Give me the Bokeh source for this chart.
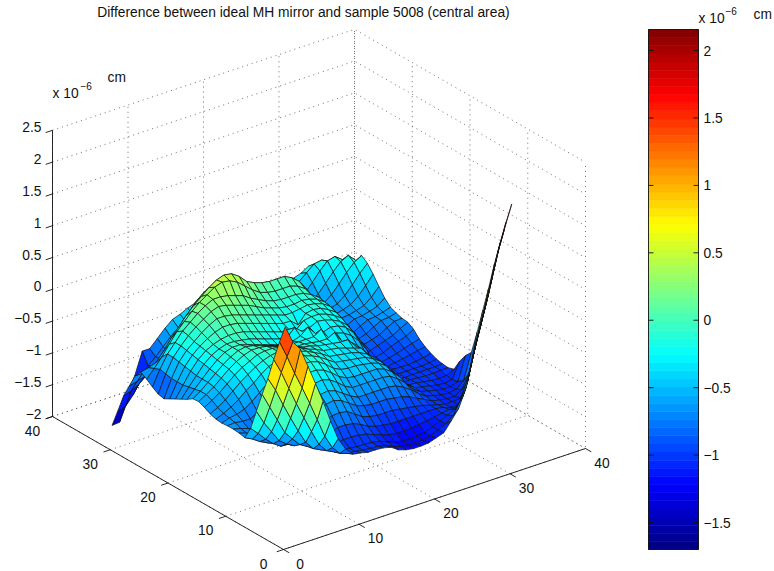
from bokeh.plotting import figure
from bokeh.models import Range1d
from bokeh.core.properties import value
from bokeh.embed import file_html
from bokeh.resources import INLINE
import numpy as np

title = "Difference between ideal MH mirror and sample 5008 (central area)"
x_ticks = [0, 10, 20, 30, 40]
y_ticks = [0, 10, 20, 30, 40]
z_ticks = [-2, -1.5, -1, -0.5, 0, 0.5, 1, 1.5, 2, 2.5]
z_tick_labels = ["\u22122", "\u22121.5", "\u22121", "\u22120.5", "0", "0.5", "1", "1.5", "2", "2.5"]
bar_ticks = [-1.5, -1, -0.5, 0, 0.5, 1, 1.5, 2]
bar_tick_labels = ["\u22121.5", "\u22121", "\u22120.5", "0", "0.5", "1", "1.5", "2"]
clim = (-1.70, 2.156)

# surface heights: hundredths of 1e-6 cm above z = -2, one list per y = 1..31
r01 = [341,313,298,267,236,204,169,137,117,105,103,100,100,99,96,88,84,82,82,83,87,91,106,122,152,203,246,289,340,378,415]
r02 = [312,285,255,228,200,170,140,118,105,101,100,98,97,96,93,88,84,82,81,82,85,90,96,105,125,156,205,248,293,341,381]
r03 = [279,255,226,198,172,146,122,108,102,100,100,98,98,97,95,90,86,83,82,83,85,90,95,100,105,120,160,207,250,297,344]
r04 = [244,222,195,170,146,124,110,104,104,106,108,108,107,105,100,96,92,90,90,90,92,94,96,98,100,98,118,163,208,251,305]
r05 = [214,190,166,142,128,115,108,108,112,118,122,122,120,115,108,104,102,100,100,100,100,100,100,100,98,94,94,117,167,210,262]
r06 = [182,160,142,124,115,108,108,114,122,130,135,136,134,126,118,114,112,112,112,110,108,106,104,100,97,94,94,95,119,169,222]
r07 = [150,138,125,114,106,105,110,120,132,142,148,150,146,138,130,126,124,124,124,122,120,116,110,104,98,95,93,93,100,123,182]
r08 = [130,124,116,110,108,108,116,128,142,152,158,160,156,148,140,134,134,134,134,134,132,126,118,108,100,97,94,93,95,105,145]
r09 = [132,128,122,116,114,118,128,142,154,164,170,172,168,160,150,144,144,144,144,144,142,134,124,110,102,99,96,94,94,98,135]
r10 = [133,130,126,122,124,132,144,156,168,176,182,182,178,170,160,154,152,152,152,152,148,140,128,112,103,100,98,95,94,96,121]
r11 = [133,134,132,132,138,148,158,170,178,186,190,190,186,178,168,162,160,160,158,156,152,144,130,112,102,101,99,97,96,97,103]
r12 = [132,136,138,142,150,160,170,180,186,192,196,194,190,184,176,168,166,164,162,160,154,146,132,112,100,101,100,99,99,100,100]
r13 = [133,138,144,152,162,170,180,188,192,196,198,196,192,186,180,172,170,168,166,162,156,146,130,110,100,99,100,100,100,100,101]
r14 = [136,142,150,160,170,178,186,192,196,198,198,196,192,186,182,176,174,172,168,164,160,146,128,108,101,100,100,100,100,101,103]
r15 = [141,148,156,166,176,184,190,196,198,198,196,192,188,184,182,178,176,174,172,172,158,146,128,110,103,102,101,101,102,104,107]
r16 = [145,152,160,170,180,188,194,198,198,196,192,188,184,180,180,178,176,176,182,164,160,150,136,118,102,101,103,105,107,110,112]
r17 = [144,152,162,172,182,190,196,198,196,192,188,184,180,178,178,178,178,186,168,172,168,160,148,130,103,103,105,108,112,116,119]
r18 = [138,150,162,174,184,192,196,196,192,188,184,180,176,174,174,178,188,174,172,176,174,168,156,138,105,105,108,114,118,122,129]
r19 = [133,148,162,176,186,192,196,196,194,192,188,184,180,176,174,186,176,178,184,182,178,172,162,145,107,110,114,118,122,129,135]
r20 = [128,146,164,178,188,194,198,200,200,198,194,190,186,182,178,178,174,184,186,186,182,176,168,150,112,115,118,122,129,135,136]
r21 = [123,146,166,180,190,198,204,208,208,206,202,198,194,190,186,182,182,172,186,188,186,180,172,155,115,118,122,129,135,136,139]
r22 = [118,146,168,182,192,202,210,216,216,214,210,206,202,198,194,190,186,186,188,190,188,184,176,160,120,122,129,135,136,139,143]
r23 = [120,148,170,184,196,206,214,222,226,224,220,216,212,206,200,196,192,190,190,192,190,186,178,165,125,129,135,136,139,143,152]
r24 = [126,150,170,184,198,208,218,226,232,232,230,226,222,214,208,202,198,196,196,196,194,188,180,160,129,135,136,139,143,152,165]
r25 = [133,146,160,176,192,204,216,226,234,242,246,244,238,228,218,210,206,204,204,204,200,192,175,150,135,136,139,143,152,165,179]
r26 = [139,142,146,160,176,190,204,216,226,236,244,248,246,238,226,220,216,214,214,214,208,198,182,142,136,139,143,152,165,179,191]
r27 = [128,128,130,140,152,164,184,198,212,222,226,226,220,210,202,196,192,190,192,194,198,190,165,140,139,143,152,165,179,191,198]
r28 = [107,110,114,122,132,142,152,164,176,186,192,194,190,184,176,170,168,168,170,172,176,165,150,140,143,152,165,179,191,197,185]
r29 = [86,90,96,106,116,124,134,144,156,164,170,172,170,166,160,156,154,154,156,158,158,150,146,143,152,165,179,191,194,185,178]
r30 = [57,60,74,92,112,122,134,146,156,162,168,170,170,168,164,162,160,160,160,162,160,158,154,152,165,175,185,187,180,175,170]
r31 = [29,30,68,95,130,130,142,154,164,168,174,178,180,178,176,174,172,170,168,167,160,160,160,160,165,169,176,170,168,166,165]
rows = [r01,r02,r03,r04,r05,r06,r07,r08,r09,r10,r11,r12,r13,r14,r15,r16,r17,r18,r19,r20,r21,r22,r23,r24,r25,r26,r27,r28,r29,r30,r31]
Z = np.array(rows) / 100.0 - 2.0   # Z[y-1, x-1]

W, H = 774, 571
FONT = value("Liberation Sans")


def px(x, y, z=-2.0):
    return 283 + 7.55 * np.asarray(x, float) - 5.775 * np.asarray(y, float)


def py(x, y, z=-2.0):
    return 549 - 2.525 * np.asarray(x, float) - 3.325 * np.asarray(y, float) - 63.6 * (np.asarray(z, float) + 2)


def depth(x, y, z):
    return 8.54 * (0.607 * x + 0.794 * y) - 31.2 * z


def jet(t):
    n = 64
    i = min(n - 1, max(0, int(t * n)))
    v = (i + 0.5) / n
    r = np.clip(min(4 * v - 1.5, -4 * v + 4.5), 0, 1)
    g = np.clip(min(4 * v - 0.5, -4 * v + 3.5), 0, 1)
    b = np.clip(min(4 * v + 0.5, -4 * v + 2.5), 0, 1)
    return "#%02x%02x%02x" % (int(r * 255), int(g * 255), int(b * 255))


def col(z):
    return jet((z - clim[0]) / (clim[1] - clim[0]))


p = figure(width=W, height=H, output_backend="svg", toolbar_location=None,
           x_range=Range1d(0, W), y_range=Range1d(H, 0),
           x_axis_type=None, y_axis_type=None, min_border=0, outline_line_color=None)
p.grid.visible = False
p.background_fill_color = "white"
p.border_fill_color = "white"

# dotted grid: floor and the two back walls
gx, gy = [], []
for t in x_ticks:
    gx.append([px(t, 0), px(t, 40), px(t, 40)])
    gy.append([py(t, 0, -2), py(t, 40, -2), py(t, 40, 2.5)])
for t in y_ticks:
    gx.append([px(0, t), px(40, t), px(40, t)])
    gy.append([py(0, t, -2), py(40, t, -2), py(40, t, 2.5)])
for t in z_ticks:
    gx.append([px(0, 40), px(40, 40), px(40, 0)])
    gy.append([py(0, 40, t), py(40, 40, t), py(40, 0, t)])
p.multi_line(gx, gy, line_color="#333333", line_width=0.7, line_dash="1 4")

# axes
p.line([px(0, 40), px(0, 0), px(40, 0)], [py(0, 40), py(0, 0), py(40, 0)], line_color="#111111", line_width=0.9)
p.line([px(0, 40), px(0, 40)], [py(0, 40, -2), py(0, 40, 2.5)], line_color="#111111", line_width=0.9)
tx, ty = [], []
for t in x_ticks:
    tx.append([px(t, 0), px(t, -1.0)])
    ty.append([py(t, 0), py(t, -1.0)])
for t in y_ticks:
    tx.append([px(0, t), px(-0.9, t)])
    ty.append([py(0, t), py(-0.9, t)])
for t in z_ticks:
    tx.append([px(0, 40), px(-0.9, 40)])
    ty.append([py(0, 40, t), py(-0.9, 40, t)])
p.multi_line(tx, ty, line_color="#111111", line_width=0.9)


def label(x, y, s, size="13.8px", align="center"):
    p.text([x], [y], text=[s], text_font=FONT, text_font_size=size, text_align=align,
           text_baseline="middle", text_color="#111111")


for t in x_ticks:
    label(float(px(t, 0)) + 16.5, float(py(t, 0)) + 14, str(t))
for t in y_ticks:
    label(float(px(0, t)) - 20, float(py(0, t)) + 14, str(t))
for t, s in zip(z_ticks, z_tick_labels):
    label(41, float(py(0, 40, t)) - 3, s, align="right")

label(52, 93, "x 10", align="left")
label(80, 85, "\u22126", size="10px", align="left")
label(107, 77, "cm", align="left")
label(303, 12, title)

# surface cells, far ones first
ny, nx = Z.shape
cells = []
for j in range(ny - 1):
    for i in range(nx - 1):
        ii = [i, i + 1, i + 1, i]
        jj = [j, j, j + 1, j + 1]
        xs = [k + 1 for k in ii]
        ys = [k + 1 for k in jj]
        zs = [Z[b, a] for a, b in zip(ii, jj)]
        d = depth(np.mean(xs), np.mean(ys), np.mean(zs))
        cells.append((d, xs, ys, zs))
cells.sort(key=lambda c: -c[0])
p.patches([[float(v) for v in px(c[1], c[2])] for c in cells],
          [[float(v) for v in py(c[1], c[2], c[3])] for c in cells],
          fill_color=[col(c[3][0]) for c in cells], line_color="#111111", line_width=0.7)

# colour bar
BX0, BX1, BY0, BY1 = 648, 698, 549, 29


def by(v):
    return BY0 + (v - clim[0]) / (clim[1] - clim[0]) * (BY1 - BY0)


lv = np.linspace(clim[0], clim[1], 65)
bar_cols = [col((a + b) / 2) for a, b in zip(lv[:-1], lv[1:])]
p.quad(left=BX0, right=BX1, bottom=[by(v) for v in lv[:-1]], top=[by(v) for v in lv[1:]],
       fill_color=bar_cols, line_color=bar_cols, line_width=0.6)
p.quad(left=[BX0], right=[BX1], bottom=[BY0], top=[BY1], fill_color=None, line_color="#111111", line_width=0.9)
bx, byy = [], []
for t in bar_ticks:
    bx += [[BX0, BX0 + 5], [BX1 - 5, BX1]]
    byy += [[by(t), by(t)], [by(t), by(t)]]
p.multi_line(bx, byy, line_color="#111111", line_width=0.9)
for t, s in zip(bar_ticks, bar_tick_labels):
    label(703, by(t), s, align="left")
label(698, 18, "x 10", align="left")
label(725, 10, "\u22126", size="10px", align="left")
label(753, 14, "cm", align="left")

open("out.html", "w").write(file_html(p, INLINE))
